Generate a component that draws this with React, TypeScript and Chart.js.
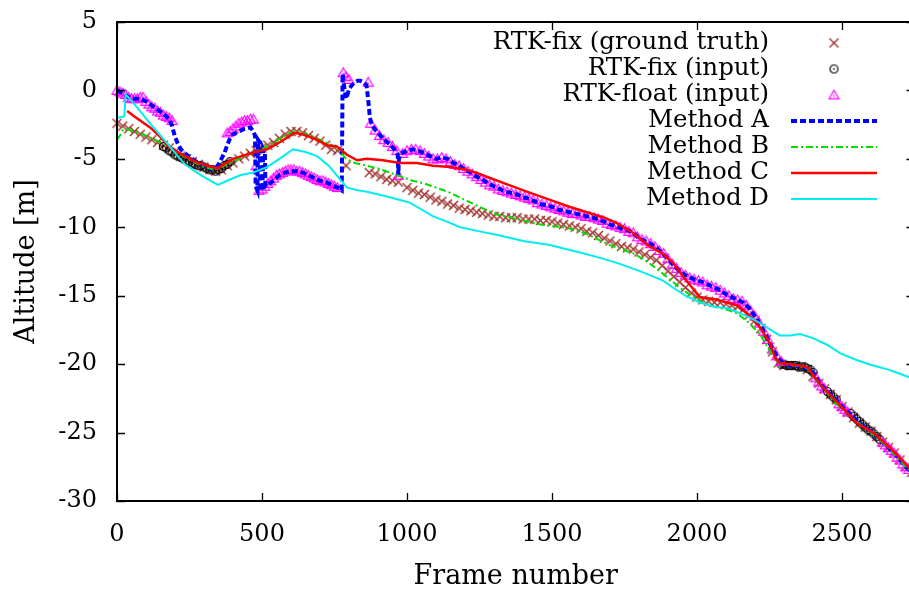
import React, { useEffect, useRef } from 'react';
import { Chart, registerables } from 'chart.js';

Chart.register(...registerables);

type P = [number, number];

// ---- data (frame number, altitude in m) ----
const groundTruth: P[] = [
  [0, -2.4], [20, -2.6], [40, -2.8], [60, -3.0], [80, -3.2], [100, -3.4], [120, -3.6], [140, -3.8], [160, -4.0], [180, -4.2],
  [200, -4.5], [220, -4.8], [240, -5.0], [260, -5.2], [280, -5.4], [300, -5.6], [320, -5.8], [340, -5.9], [360, -5.8], [380, -5.5],
  [400, -5.3], [420, -5.0], [440, -4.8], [460, -4.6], [480, -4.4], [500, -4.2], [520, -4.0], [540, -3.8], [560, -3.5], [580, -3.2],
  [600, -3.0], [620, -3.0], [640, -3.1], [660, -3.3], [680, -3.5], [700, -3.7], [720, -4.0], [740, -4.3], [760, -4.4],
  [790, -5.5],
  [870, -6.0], [890, -6.1], [910, -6.3], [930, -6.5], [950, -6.6], [970, -6.7],
  [1000, -7.1], [1020, -7.3], [1040, -7.5], [1060, -7.6], [1080, -7.8], [1100, -8.0], [1120, -8.1], [1140, -8.3], [1160, -8.4], [1180, -8.6],
  [1200, -8.7], [1220, -8.8], [1240, -8.9], [1260, -9.0], [1280, -9.1], [1300, -9.2], [1320, -9.2], [1340, -9.3], [1360, -9.3], [1380, -9.3],
  [1400, -9.4], [1420, -9.4], [1440, -9.4], [1460, -9.5], [1480, -9.5], [1500, -9.6], [1520, -9.7], [1540, -9.8], [1560, -9.9], [1580, -10.0],
  [1600, -10.1], [1620, -10.3], [1640, -10.4], [1660, -10.6], [1680, -10.8], [1700, -11.0], [1720, -11.2], [1740, -11.4], [1760, -11.5], [1780, -11.6],
  [1800, -11.8], [1820, -12.0], [1840, -12.2], [1860, -12.4], [1880, -12.8], [1900, -13.2], [1920, -13.6], [1940, -14.0], [1960, -14.4], [1980, -14.8],
  [2000, -15.1], [2020, -15.3], [2040, -15.4], [2060, -15.5], [2080, -15.5], [2100, -15.6], [2120, -15.7], [2140, -15.8], [2160, -16.0], [2180, -16.4],
  [2200, -16.8], [2220, -17.4], [2240, -18.2], [2260, -19.1], [2280, -19.9], [2300, -20.1], [2320, -20.1], [2340, -20.1], [2360, -20.2], [2380, -20.4],
  [2400, -20.9], [2420, -21.4], [2440, -21.8], [2460, -22.2], [2480, -22.6], [2500, -23.1], [2520, -23.5], [2540, -23.9], [2560, -24.3], [2580, -24.6],
  [2600, -24.9], [2620, -25.3], [2640, -25.7], [2660, -26.1], [2680, -26.5], [2700, -27.0], [2720, -27.5], [2740, -27.9],
];

const fixInput: P[] = [
  [160, -4.1], [170, -4.2], [180, -4.4], [190, -4.5], [200, -4.7], [210, -4.8], [220, -4.9], [230, -5.0], [240, -5.1], [250, -5.2],
  [260, -5.3], [270, -5.4], [280, -5.5], [290, -5.5], [300, -5.6], [310, -5.7], [320, -5.8], [330, -5.8], [340, -5.9], [350, -5.8],
  [360, -5.7], [370, -5.5], [380, -5.4], [390, -5.2],
  [2290, -20.0], [2300, -20.0], [2310, -20.1], [2320, -20.1], [2330, -20.1], [2340, -20.1], [2350, -20.2], [2360, -20.2], [2370, -20.2],
  [2380, -20.3], [2390, -20.4], [2400, -20.6],
  [2450, -22.0], [2460, -22.2], [2470, -22.4], [2480, -22.6],
  [2530, -23.6], [2540, -23.8], [2550, -24.0], [2560, -24.2], [2570, -24.4], [2580, -24.6], [2590, -24.8], [2600, -24.9], [2610, -25.1],
  [2620, -25.3], [2630, -25.5],
];

const floatInput: P[] = [
  [0, 0.0], [10, -0.1], [20, -0.2], [30, -0.3], [40, -0.5], [50, -0.6], [60, -0.6], [70, -0.6], [80, -0.5], [90, -0.5],
  [100, -0.8], [110, -1.0], [120, -1.2], [130, -1.3], [140, -1.5], [150, -1.6], [160, -1.8], [170, -1.9], [180, -2.0], [190, -2.2],
  [380, -3.1], [390, -3.0], [400, -2.8], [410, -2.6], [420, -2.4], [430, -2.3], [440, -2.2], [450, -2.2], [460, -2.1], [470, -2.1],
  [480, -5.5], [490, -7.3], [500, -7.2], [510, -7.0], [520, -6.8], [530, -6.6], [540, -6.4], [550, -6.2], [560, -6.1], [570, -6.0],
  [580, -5.9], [590, -5.8], [600, -5.8], [610, -5.8], [620, -5.9], [630, -5.9], [640, -6.0], [650, -6.1], [660, -6.2], [670, -6.3],
  [680, -6.4], [690, -6.5], [700, -6.6], [710, -6.6], [720, -6.7], [730, -6.8], [740, -6.9], [750, -7.0], [760, -7.1],
  [780, 1.3], [790, 1.0], [800, 0.8], [866, 0.6],
  [875, -2.4], [890, -2.9], [905, -3.3], [920, -3.6], [935, -3.8], [950, -4.1], [965, -4.4], [970, -6.2], [985, -4.6], [1000, -4.4],
  [1015, -4.3], [1030, -4.3], [1045, -4.4], [1060, -4.6], [1075, -4.8], [1090, -5.0], [1105, -5.0], [1120, -4.9], [1135, -5.0], [1150, -5.2],
  [1165, -5.4], [1180, -5.5], [1195, -5.7], [1210, -5.9], [1225, -6.1], [1240, -6.3], [1255, -6.5], [1270, -6.7], [1285, -6.9], [1300, -7.0],
  [1315, -7.2], [1330, -7.3], [1345, -7.4], [1360, -7.5], [1375, -7.6], [1390, -7.7], [1405, -7.8], [1420, -7.9], [1435, -8.0], [1450, -8.2],
  [1465, -8.3], [1480, -8.4], [1495, -8.5], [1510, -8.6], [1525, -8.7], [1540, -8.8], [1555, -8.9], [1570, -9.0], [1585, -9.0], [1600, -9.1],
  [1615, -9.2], [1630, -9.2], [1645, -9.3], [1660, -9.4], [1675, -9.5], [1690, -9.7], [1705, -9.8], [1720, -9.9], [1735, -10.0], [1750, -10.1],
  [1765, -10.3], [1780, -10.4], [1795, -10.7], [1810, -10.9], [1825, -11.0], [1840, -11.2], [1855, -11.4], [1870, -11.7], [1885, -11.9], [1900, -12.3],
  [1915, -12.7], [1930, -13.0], [1945, -13.3], [1960, -13.5], [1975, -13.7], [1990, -13.8], [2005, -13.9], [2020, -14.0], [2035, -14.2], [2050, -14.3],
  [2065, -14.4], [2080, -14.6], [2095, -14.8], [2110, -15.0], [2125, -15.2], [2140, -15.3], [2155, -15.4], [2170, -15.7], [2185, -16.1], [2200, -16.5],
  [2215, -17.0], [2230, -17.6], [2245, -18.2], [2260, -18.9], [2275, -19.4], [2290, -19.8],
  [2410, -21.0], [2420, -21.3], [2430, -21.6], [2440, -21.8], [2490, -22.9], [2500, -23.1], [2510, -23.3], [2520, -23.5],
  [2640, -25.7], [2650, -25.9], [2660, -26.1], [2670, -26.3], [2680, -26.5], [2690, -26.8], [2700, -27.0], [2710, -27.3], [2720, -27.5], [2730, -27.7],
];

const methodA: P[] = [
  [0, 0.0], [20, -0.2], [40, -0.5], [60, -0.6], [80, -0.6], [100, -0.8], [120, -1.1], [140, -1.4], [160, -1.7], [180, -2.1],
  [190, -2.6], [200, -3.4], [210, -3.9], [220, -4.3], [240, -4.7], [260, -5.0], [280, -5.3], [300, -5.5], [320, -5.7], [340, -5.7],
  [350, -5.4], [360, -5.0], [370, -4.6], [380, -4.0], [390, -3.5], [400, -3.2], [420, -3.0], [440, -2.8], [460, -2.7], [470, -3.0],
  [476, -3.3], [478, -7.0], [484, -7.3], [486, -3.6], [492, -3.8], [494, -7.3], [502, -7.1], [504, -4.3], [510, -4.6], [512, -7.0],
  [520, -6.9], [540, -6.6], [560, -6.2], [580, -6.0], [600, -5.9], [620, -5.9], [640, -6.0], [660, -6.2], [680, -6.4], [700, -6.6],
  [720, -6.7], [740, -6.9], [760, -7.1], [775, -7.3], [778, 1.2], [785, 0.0], [790, -0.6], [795, -0.3], [800, 0.1], [810, 0.4],
  [820, 0.6], [830, 0.7], [840, 0.7], [850, 0.6], [860, 0.4], [866, -0.6], [872, -2.0], [880, -2.6], [900, -3.1], [920, -3.6],
  [940, -3.9], [960, -4.4], [968, -4.7], [970, -6.2], [972, -5.0], [980, -4.6], [1000, -4.4], [1020, -4.3], [1040, -4.4], [1060, -4.6],
  [1080, -4.8], [1100, -5.0], [1120, -4.9], [1140, -5.0], [1160, -5.3], [1180, -5.5], [1200, -5.8], [1220, -6.0], [1240, -6.3], [1260, -6.5],
  [1280, -6.8], [1300, -7.0], [1320, -7.2], [1340, -7.4], [1360, -7.5], [1380, -7.6], [1400, -7.8], [1420, -7.9], [1440, -8.1], [1460, -8.3],
  [1480, -8.4], [1500, -8.5], [1520, -8.7], [1540, -8.8], [1560, -8.9], [1580, -9.0], [1600, -9.1], [1620, -9.2], [1640, -9.3], [1660, -9.4],
  [1680, -9.6], [1700, -9.8], [1720, -9.9], [1740, -10.1], [1760, -10.2], [1780, -10.4], [1800, -10.8], [1820, -11.0], [1840, -11.2], [1860, -11.5],
  [1880, -11.9], [1900, -12.3], [1920, -12.8], [1940, -13.2], [1960, -13.5], [1980, -13.7], [2000, -13.9], [2020, -14.0], [2040, -14.2], [2060, -14.4],
  [2080, -14.6], [2100, -14.9], [2120, -15.1], [2140, -15.3], [2160, -15.5], [2180, -15.9], [2200, -16.5], [2220, -17.2], [2240, -18.0], [2260, -18.9],
  [2280, -19.6], [2300, -20.0], [2320, -20.1], [2340, -20.1], [2360, -20.2], [2380, -20.3], [2400, -20.6], [2420, -21.3], [2440, -21.8], [2460, -22.2],
  [2480, -22.6], [2500, -23.1], [2520, -23.5], [2540, -23.9], [2560, -24.3], [2580, -24.6], [2600, -24.9], [2620, -25.3], [2640, -25.7], [2660, -26.1],
  [2680, -26.5], [2700, -27.0], [2720, -27.5], [2740, -27.9],
];

const methodB: P[] = [
  [0, -3.6], [10, -3.3], [20, -2.9], [30, -2.8], [60, -3.0], [100, -3.3], [140, -3.7], [180, -4.1], [220, -4.7], [260, -5.2],
  [300, -5.6], [340, -5.8], [380, -5.4], [420, -5.0], [460, -4.6], [500, -4.3], [540, -3.8], [580, -3.3], [610, -3.0], [640, -3.1],
  [680, -3.4], [720, -3.8], [760, -4.2], [790, -5.0], [820, -5.3], [860, -5.5], [900, -5.7], [940, -6.0], [980, -6.3], [1020, -6.6],
  [1060, -6.8], [1100, -7.1], [1140, -7.4], [1180, -7.8], [1220, -8.2], [1260, -8.6], [1300, -9.0], [1340, -9.2], [1380, -9.4], [1420, -9.6],
  [1460, -9.8], [1500, -9.9], [1540, -10.0], [1580, -10.2], [1620, -10.5], [1660, -10.9], [1700, -11.3], [1740, -11.6], [1780, -11.9], [1820, -12.4],
  [1860, -13.0], [1900, -13.7], [1940, -14.4], [1980, -15.0], [2020, -15.5], [2060, -15.8], [2100, -16.0], [2140, -16.3], [2180, -17.0], [2220, -17.9],
  [2250, -19.0], [2270, -19.7], [2290, -20.0], [2340, -20.1], [2380, -20.3], [2420, -21.4], [2480, -22.9], [2540, -24.0], [2600, -25.0], [2660, -26.1],
  [2720, -27.5], [2750, -28.1],
];

const methodC: P[] = [
  [35, -1.5], [60, -1.9], [114, -2.7], [150, -3.4], [183, -4.2], [234, -4.8], [280, -5.3], [345, -5.7], [400, -5.0], [460, -4.6],
  [517, -4.3], [560, -3.8], [597, -3.3], [610, -3.1], [640, -3.2], [690, -3.6], [724, -4.0], [758, -4.1], [793, -4.7], [828, -5.1],
  [862, -5.0], [917, -5.1], [976, -5.3], [1034, -5.3], [1090, -5.5], [1150, -5.6], [1206, -5.8], [1250, -6.1], [1286, -6.4], [1350, -6.9],
  [1413, -7.4], [1493, -8.0], [1560, -8.5], [1620, -8.9], [1680, -9.3], [1724, -9.7], [1779, -10.4], [1830, -11.3], [1880, -11.9], [1917, -12.6],
  [1952, -13.6], [2010, -15.1], [2069, -15.3], [2138, -15.7], [2172, -16.3], [2217, -17.3], [2252, -18.5], [2269, -19.5], [2286, -19.9], [2320, -20.0],
  [2379, -20.2], [2434, -21.7], [2493, -23.0], [2551, -24.3], [2607, -25.0], [2665, -26.1], [2724, -27.4], [2750, -28.0],
];

const methodD: P[] = [
  [0, -2.0], [25, -1.9], [30, -0.3], [60, -1.0], [114, -2.4], [170, -3.8], [234, -5.4], [290, -6.2], [348, -6.9], [380, -6.6],
  [424, -6.2], [470, -6.0], [517, -5.6], [560, -5.0], [607, -4.3], [650, -4.5], [690, -4.8], [730, -5.5], [758, -6.2], [793, -7.1],
  [830, -7.3], [862, -7.4], [941, -7.8], [976, -8.0], [1010, -8.2], [1050, -8.7], [1090, -9.2], [1140, -9.6], [1183, -10.0], [1250, -10.3],
  [1321, -10.6], [1400, -11.0], [1493, -11.3], [1550, -11.6], [1607, -11.9], [1660, -12.2], [1724, -12.6], [1803, -13.2], [1883, -13.9], [1917, -14.4],
  [1960, -15.0], [2010, -15.5], [2060, -15.8], [2103, -15.9], [2140, -16.2], [2183, -16.6], [2225, -17.1], [2262, -17.6], [2286, -17.9], [2320, -17.9],
  [2355, -17.8], [2400, -18.1], [2450, -18.6], [2493, -19.2], [2550, -19.7], [2607, -20.1], [2660, -20.4], [2700, -20.7], [2750, -21.1],
];

const seriesLabels = [
  'RTK-fix (ground truth)',
  'RTK-fix (input)',
  'RTK-float (input)',
  'Method A',
  'Method B',
  'Method C',
  'Method D',
];

const xTitle = 'Frame number';
const yTitle = 'Altitude [m]';
const xRange = [0, 2750];
const yRange = [-30, 5];
const xTickValues = [0, 500, 1000, 1500, 2000, 2500];
const yTickValues = [-30, -25, -20, -15, -10, -5, 0, 5];

const FONT = 'DejaVu Serif';
const CANVAS_W = 930;
const CANVAS_H = 593;

function toXY(points: P[]) {
  return points.map(([x, y]) => ({ x, y }));
}

function makeMarker(kind: 'cross' | 'circle' | 'triangle', color: string): HTMLCanvasElement {
  const c = document.createElement('canvas');
  c.width = 13;
  c.height = 13;
  const g = c.getContext('2d')!;
  g.strokeStyle = color;
  g.fillStyle = color;
  g.lineWidth = 1.4;
  const m = 6.5;
  g.beginPath();
  if (kind === 'cross') {
    g.moveTo(m - 4.5, m - 4.5);
    g.lineTo(m + 4.5, m + 4.5);
    g.moveTo(m + 4.5, m - 4.5);
    g.lineTo(m - 4.5, m + 4.5);
    g.stroke();
  } else if (kind === 'circle') {
    g.lineWidth = 1.2;
    g.arc(m, m, 4, 0, Math.PI * 2);
    g.stroke();
    g.fillRect(m - 0.8, m - 0.8, 1.6, 1.6);
  } else {
    g.lineWidth = 1.2;
    g.moveTo(m, m - 4.8);
    g.lineTo(m + 5, m + 3.8);
    g.lineTo(m - 5, m + 3.8);
    g.closePath();
    g.stroke();
    g.fillRect(m - 0.8, m + 0.2, 1.6, 1.6);
  }
  return c;
}

const gnuplotPlugin = {
  id: 'gnuplotFrameAndKey',
  afterDatasetsDraw(chart: any) {
    const { ctx, chartArea: a, scales } = chart;
    const xs = scales.x;
    const ys = scales.y;
    ctx.save();
    // frame
    ctx.strokeStyle = '#000';
    ctx.lineWidth = 2;
    ctx.setLineDash([]);
    ctx.strokeRect(a.left, a.top, a.right - a.left, a.bottom - a.top);
    // inward ticks, mirrored
    ctx.lineWidth = 1.3;
    ctx.beginPath();
    xs.ticks.forEach((t: any) => {
      const px = Math.round(xs.getPixelForValue(t.value)) + 0.5;
      ctx.moveTo(px, a.bottom);
      ctx.lineTo(px, a.bottom - 8);
      ctx.moveTo(px, a.top);
      ctx.lineTo(px, a.top + 8);
    });
    ys.ticks.forEach((t: any) => {
      const py = Math.round(ys.getPixelForValue(t.value)) + 0.5;
      ctx.moveTo(a.left, py);
      ctx.lineTo(a.left + 8, py);
      ctx.moveTo(a.right, py);
      ctx.lineTo(a.right - 8, py);
    });
    ctx.stroke();

    // key (gnuplot style: right-aligned text, sample on the right)
    const textRight = a.left + 652;
    const sampleL = a.left + 674;
    const sampleR = a.left + 760;
    ctx.font = `24.5px "${FONT}"`;
    ctx.textAlign = 'right';
    ctx.textBaseline = 'middle';
    chart.data.datasets.forEach((ds: any, i: number) => {
      const y = a.top + 21 + 26 * i;
      ctx.fillStyle = '#000';
      ctx.fillText(ds.label, textRight, y);
      if (ds.showLine) {
        ctx.save();
        ctx.strokeStyle = ds.borderColor;
        ctx.lineWidth = ds.borderWidth;
        ctx.setLineDash(ds.borderDash || []);
        ctx.beginPath();
        ctx.moveTo(sampleL, y);
        ctx.lineTo(sampleR, y);
        ctx.stroke();
        ctx.restore();
      } else {
        const img = ds.pointStyle as HTMLCanvasElement;
        const cx = (sampleL + sampleR) / 2;
        ctx.drawImage(img, cx - img.width / 2, y - img.height / 2);
      }
    });
    ctx.restore();
  },
};

export default function App() {
  const canvasRef = useRef<HTMLCanvasElement | null>(null);

  useEffect(() => {
    const canvas = canvasRef.current;
    if (!canvas) return;

    const crossImg = makeMarker('cross', '#9c2f28');
    const circleImg = makeMarker('circle', '#000000');
    const triImg = makeMarker('triangle', '#ff00ff');

    const markerSet = (label: string, pts: P[], img: HTMLCanvasElement, order: number) => ({
      label,
      data: toXY(pts),
      showLine: false,
      pointStyle: img,
      pointRadius: 4.5,
      borderColor: '#000',
      backgroundColor: 'transparent',
      clip: 8,
      order,
    });
    const lineSet = (label: string, pts: P[], color: string, width: number, dash: number[], order: number) => ({
      label,
      data: toXY(pts),
      showLine: true,
      borderColor: color,
      backgroundColor: color,
      borderWidth: width,
      borderDash: dash,
      pointRadius: 0,
      tension: 0,
      fill: false,
      clip: 2,
      order,
    });

    const fixedTicks = (values: number[]) => (s: any) => {
      s.ticks = values.map((v) => ({ value: v }));
    };
    const noAutoPad = (size: 'w' | 'h', v: number) => (s: any) => {
      if (size === 'w') s.width = v;
      else s.height = v;
      s.paddingTop = 0;
      s.paddingBottom = 0;
      s.paddingLeft = 0;
      s.paddingRight = 0;
    };

    const chart = new Chart(canvas, {
      type: 'scatter',
      data: {
        datasets: [
          markerSet(seriesLabels[0], groundTruth, crossImg, 7),
          markerSet(seriesLabels[1], fixInput, circleImg, 6),
          markerSet(seriesLabels[2], floatInput, triImg, 5),
          lineSet(seriesLabels[3], methodA, '#0000ff', 4, [6, 3], 4),
          lineSet(seriesLabels[4], methodB, '#00dd00', 2, [7, 3, 2, 3], 3),
          lineSet(seriesLabels[5], methodC, '#ff0000', 2.5, [], 2),
          lineSet(seriesLabels[6], methodD, '#00eeee', 2, [], 1),
        ] as any,
      },
      options: {
        animation: false,
        responsive: false,
        devicePixelRatio: 1,
        events: [],
        layout: { padding: { left: 0, top: 22, right: CANVAS_W - 914.5, bottom: 0 } },
        plugins: {
          legend: { display: false },
          tooltip: { enabled: false },
        },
        scales: {
          x: {
            type: 'linear',
            position: 'bottom',
            min: xRange[0],
            max: xRange[1],
            afterBuildTicks: fixedTicks(xTickValues),
            afterFit: noAutoPad('h', 92),
            grid: { display: false, drawTicks: false },
            border: { display: false },
            ticks: {
              padding: 19,
              color: '#000',
              maxRotation: 0,
              autoSkip: false,
              font: { family: FONT, size: 24 },
              callback: (v: any) => String(v),
            },
            title: {
              display: true,
              text: xTitle,
              color: '#000',
              font: { family: FONT, size: 27 },
              padding: { top: 0, bottom: 0 },
            },
          },
          y: {
            type: 'linear',
            position: 'left',
            min: yRange[0],
            max: yRange[1],
            afterBuildTicks: fixedTicks(yTickValues),
            afterFit: noAutoPad('w', 117),
            grid: { display: false, drawTicks: false },
            border: { display: false },
            ticks: {
              padding: 20,
              color: '#000',
              autoSkip: false,
              font: { family: FONT, size: 24 },
              callback: (v: any) => String(v),
            },
            title: {
              display: true,
              text: yTitle,
              color: '#000',
              font: { family: FONT, size: 27 },
              padding: { top: 11, bottom: 0 },
            },
          },
        },
      } as any,
      plugins: [gnuplotPlugin],
    });

    return () => {
      chart.destroy();
    };
  }, []);

  return (
    <div
      style={{
        position: 'fixed',
        left: 0,
        top: 0,
        width: 909,
        height: 593,
        overflow: 'hidden',
        background: '#fff',
      }}
    >
      <canvas ref={canvasRef} width={CANVAS_W} height={CANVAS_H} style={{ display: 'block' }} />
    </div>
  );
}
